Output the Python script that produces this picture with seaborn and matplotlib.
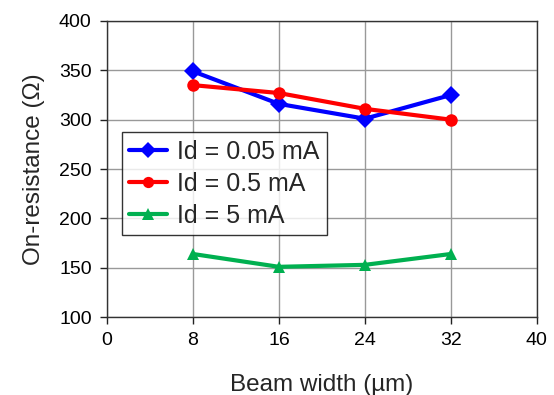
import pandas as pd
import numpy as np
import matplotlib.pyplot as plt
import seaborn as sns

beam_width = [8, 16, 24, 32]
r_005 = [349, 316, 301, 325]
r_05 = [335, 327, 311, 300]
r_5 = [164, 151, 153, 164]
labels = ["Id = 0.05 mA", "Id = 0.5 mA", "Id = 5 mA"]

sns.set_style("white")
plt.rcParams['font.family'] = ['Liberation Sans', 'DejaVu Sans']

data = pd.DataFrame({
    "width": beam_width * 3,
    "R": r_005 + r_05 + r_5,
    "Id": [labels[0]] * 4 + [labels[1]] * 4 + [labels[2]] * 4,
})

fig, ax = plt.subplots(figsize=(5.54, 3.95), dpi=100)
fig.subplots_adjust(left=0.193, right=0.969, top=0.947, bottom=0.197)

sns.lineplot(data=data, x="width", y="R", hue="Id", style="Id",
             palette=["#0000FF", "#FF0000", "#00B050"],
             markers=["D", "o", "^"], dashes=False, linewidth=3,
             markersize=9, markeredgewidth=0, ax=ax)

ax.set_xlim(0, 40)
ax.set_ylim(100, 400)
ax.set_xticks(np.arange(0, 41, 8))
ax.set_yticks(np.arange(100, 401, 50))
ax.grid(True, color="#999999", linewidth=1)
ax.set_axisbelow(True)
for s in ax.spines.values():
    s.set_color("#333333")
    s.set_linewidth(1)
ax.tick_params(direction="out", length=5, width=1, labelsize=14, color="#222222",
               labelcolor="black", bottom=True, left=True, pad=6)
ax.set_xlabel("Beam width (µm)", fontsize=17.5, labelpad=18)
ax.set_ylabel("On-resistance (Ω)", fontsize=17.5, labelpad=10)

leg = ax.legend(loc="upper left", bbox_to_anchor=(0.035, 0.625), fontsize=18,
                frameon=True, fancybox=False, edgecolor="black",
                handlelength=1.5, borderpad=0.3, labelspacing=0.32,
                handletextpad=0.4, borderaxespad=0, markerscale=0.9)
leg.get_frame().set_linewidth(1)

plt.savefig("out.png")
